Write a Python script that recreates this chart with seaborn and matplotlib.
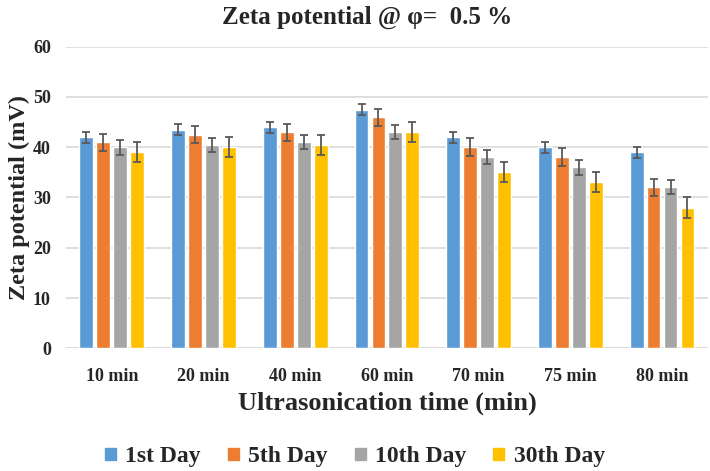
import numpy as np
import pandas as pd
import seaborn as sns
import matplotlib.pyplot as plt

# data
times = ['10 min', '20 min', '40 min', '60 min', '70 min', '75 min', '80 min']
days = ['1st Day', '5th Day', '10th Day', '30th Day']
day1 = [42, 43.5, 44, 47.5, 42, 40, 39]
day5 = [41, 42.5, 43, 46, 40, 38, 32]
day10 = [40, 40.5, 41, 43, 38, 36, 32]
day30 = [39, 40, 40.5, 43, 35, 33, 28]
err1 = [1.1, 1.1, 1.1, 1.1, 1.1, 1.1, 1.1]
err5 = [1.7, 1.7, 1.7, 1.7, 1.75, 1.75, 1.7]
err10 = [1.45, 1.4, 1.45, 1.45, 1.4, 1.45, 1.4]
err30 = [2.0, 2.0, 2.0, 2.0, 2.0, 2.0, 2.0]
colors = ['#5B9BD5', '#ED7D31', '#A5A5A5', '#FFC000']

df = pd.DataFrame({
    'time': times * 4,
    'day': [d for d in days for _ in times],
    'zeta': day1 + day5 + day10 + day30,
})
errs = [err1, err5, err10, err30]

sns.set_style('white')
plt.rcParams['font.family'] = ['Liberation Serif', 'DejaVu Serif']
plt.rcParams['font.weight'] = 'bold'

fig, ax = plt.subplots(figsize=(7.1, 4.71), dpi=100)
fig.subplots_adjust(left=0.093, right=0.997, bottom=0.2605, top=0.9009)

sns.barplot(data=df, x='time', y='zeta', hue='day', order=times,
            hue_order=days, palette=colors, width=0.74, gap=0.18,
            errorbar=None, saturation=1, ax=ax, zorder=2)

for bars, e in zip(ax.containers, errs):
    xs = [b.get_x() + b.get_width() / 2 for b in bars]
    hs = [b.get_height() for b in bars]
    ax.errorbar(xs, hs, yerr=e, fmt='none', ecolor='#595959',
                elinewidth=1.3, capsize=2.8, capthick=1.3, zorder=3)

ax.set_xlim(-0.5, len(times) - 0.5)
ax.set_ylim(0, 60)
ax.set_yticks(range(0, 61, 10))
ax.grid(axis='y', color='#D9D9D9', linewidth=1.2, zorder=0)
ax.set_axisbelow(True)
for s in ax.spines.values():
    s.set_visible(False)
ax.axhline(0, color='#D9D9D9', linewidth=1.2, zorder=1)
ax.tick_params(axis='both', length=0, labelsize=13)
ax.tick_params(axis='x', pad=14)
ax.tick_params(axis='y', pad=11)
for lab in ax.get_xticklabels() + ax.get_yticklabels():
    lab.set_fontweight('bold')

ax.set_xlabel('Ultrasonication time (min)', fontsize=19, fontweight='bold', labelpad=5)
ax.set_ylabel('Zeta potential (mV)', fontsize=17.5, fontweight='bold', labelpad=2)
fig.text(0.517, 0.963, 'Zeta potential @ \u03c6=  0.5 %', ha='center', va='center',
         fontsize=18, fontweight='bold')

ax.legend_.remove()
handles = [plt.Rectangle((0, 0), 1, 1, color=c) for c in colors]
fig.legend(handles, days, loc='center', bbox_to_anchor=(0.5, 0.03), ncol=4,
           frameon=False, prop={'size': 17, 'weight': 'bold'},
           handlelength=0.45, handleheight=0.45, handletextpad=0.4, columnspacing=1.15)

fig.savefig('out.png', dpi=100)
